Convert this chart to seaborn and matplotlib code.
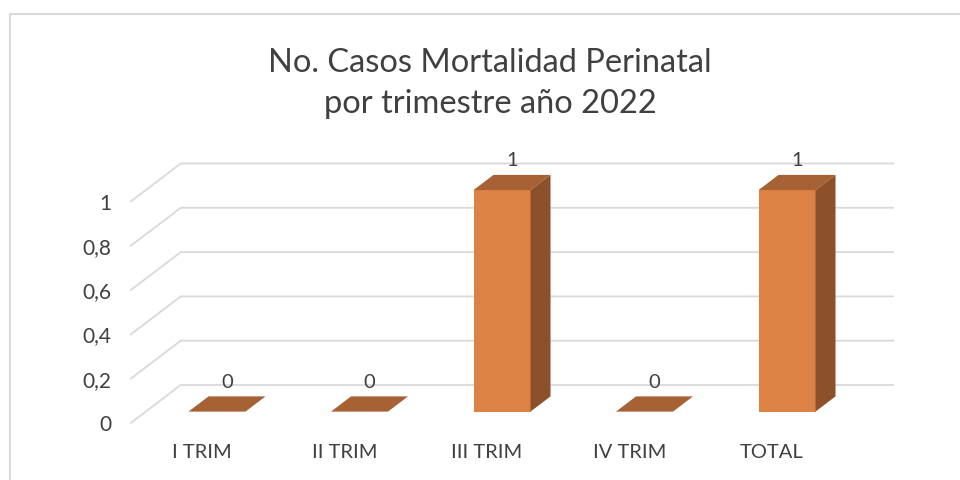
import numpy as np
import pandas as pd
import matplotlib
matplotlib.use("Agg")
import matplotlib.pyplot as plt
import seaborn as sns
from matplotlib.patches import Polygon
from matplotlib.lines import Line2D

# --- data ---
categories = ["I TRIM", "II TRIM", "III TRIM", "IV TRIM", "TOTAL"]
cases = [0, 0, 1, 0, 1]
y_ticks = [0, 0.2, 0.4, 0.6, 0.8, 1]
y_tick_labels = ["0", "0,2", "0,4", "0,6", "0,8", "1"]
title = "No. Casos Mortalidad Perinatal\npor trimestre año 2022"

# --- style ---
FRONT = "#DD8245"
TOP = "#A66134"
SIDE = "#8C512B"
GRID = "#D9D9D9"
TEXT = "#404040"

sns.set_theme(style="white")
plt.rcParams["font.family"] = ["Lato", "DejaVu Sans"]

# fake 3d depth (data units): full floor depth and bar depth
DX, DY = 0.351, 0.1716
BAR_FRAC, FRONT_FRAC = 0.4, 0.3
bdx, bdy = DX * BAR_FRAC, DY * BAR_FRAC
fdx, fdy = DX * FRONT_FRAC, DY * FRONT_FRAC
kdx, kdy = DX - fdx, DY - fdy

# axes placement in pixels: value 0 of the bar plane at y=411.6, 221.5 px per unit
PX_UNIT, ZERO_Y = 221.5, 411.6
YMIN, YMAX = -0.062, 1.2
bottom_px = ZERO_Y - YMIN * PX_UNIT
height_px = (YMAX - YMIN) * PX_UNIT

df = pd.DataFrame({"cat": categories, "n": cases})

fig = plt.figure(figsize=(9.6, 4.8), dpi=100)
ax = fig.add_axes([145.75 / 960, (480 - bottom_px) / 480, 712.5 / 960, height_px / 480])

sns.barplot(data=df, x="cat", y="n", color=FRONT, width=0.4,
            saturation=1, linewidth=0, ax=ax, zorder=3)

# gridlines (front edge -> back wall -> right)
x0, x1 = -0.5, len(categories) - 0.5
for v in y_ticks:
    ax.add_line(Line2D([x0 - fdx, x0 + kdx, x1 + kdx],
                       [v - fdy, v + kdy, v + kdy],
                       color=GRID, lw=1.3, clip_on=False, zorder=0))

# top and side faces
for i, p in enumerate(list(ax.patches)):
    xl, w, h = p.get_x(), p.get_width(), p.get_height()
    xr = xl + w
    top = [(xl, h), (xr, h), (xr + bdx, h + bdy), (xl + bdx, h + bdy)]
    ax.add_patch(Polygon(top, closed=True, fc=TOP, ec="none",
                         clip_on=False, zorder=4))
    if h > 0:
        side = [(xr, 0), (xr + bdx, bdy), (xr + bdx, h + bdy), (xr, h)]
        ax.add_patch(Polygon(side, closed=True, fc=SIDE, ec="none",
                             clip_on=False, zorder=4))
    ax.annotate(f"{cases[i]}", (xl + w / 2 + bdx / 2, h + bdy),
                xytext=(0, 4), textcoords="offset points",
                ha="center", va="bottom", fontsize=14.5, color=TEXT,
                annotation_clip=False)

ax.set_yticks([v - fdy for v in y_ticks], labels=y_tick_labels)
ax.set_xticks(np.arange(len(categories)) - fdx, labels=categories)
# limits last: set_*ticks would stretch them
ax.set_xlim(-0.5, len(categories) - 0.5)
ax.set_ylim(YMIN, YMAX)
ax.tick_params(axis="y", length=0, pad=25, labelsize=15, labelcolor=TEXT)
ax.tick_params(axis="x", length=0, pad=13.5, labelsize=14.5, labelcolor=TEXT)
ax.set_xlabel("")
ax.set_ylabel("")
for s in ax.spines.values():
    s.set_visible(False)
ax.patch.set_alpha(0)

# chart frame
fig.add_artist(Line2D([10 / 960, 10 / 960], [0, 1 - 14 / 480], color=GRID, lw=1.5))
fig.add_artist(Line2D([10 / 960, 1], [1 - 14 / 480, 1 - 14 / 480], color=GRID, lw=1.5))

fig.text(490 / 960, 1 - 83.5 / 480, title, ha="center", va="center",
         fontsize=23.5, color=TEXT, linespacing=1.48)

fig.savefig("out.png", dpi=100, facecolor="white")
